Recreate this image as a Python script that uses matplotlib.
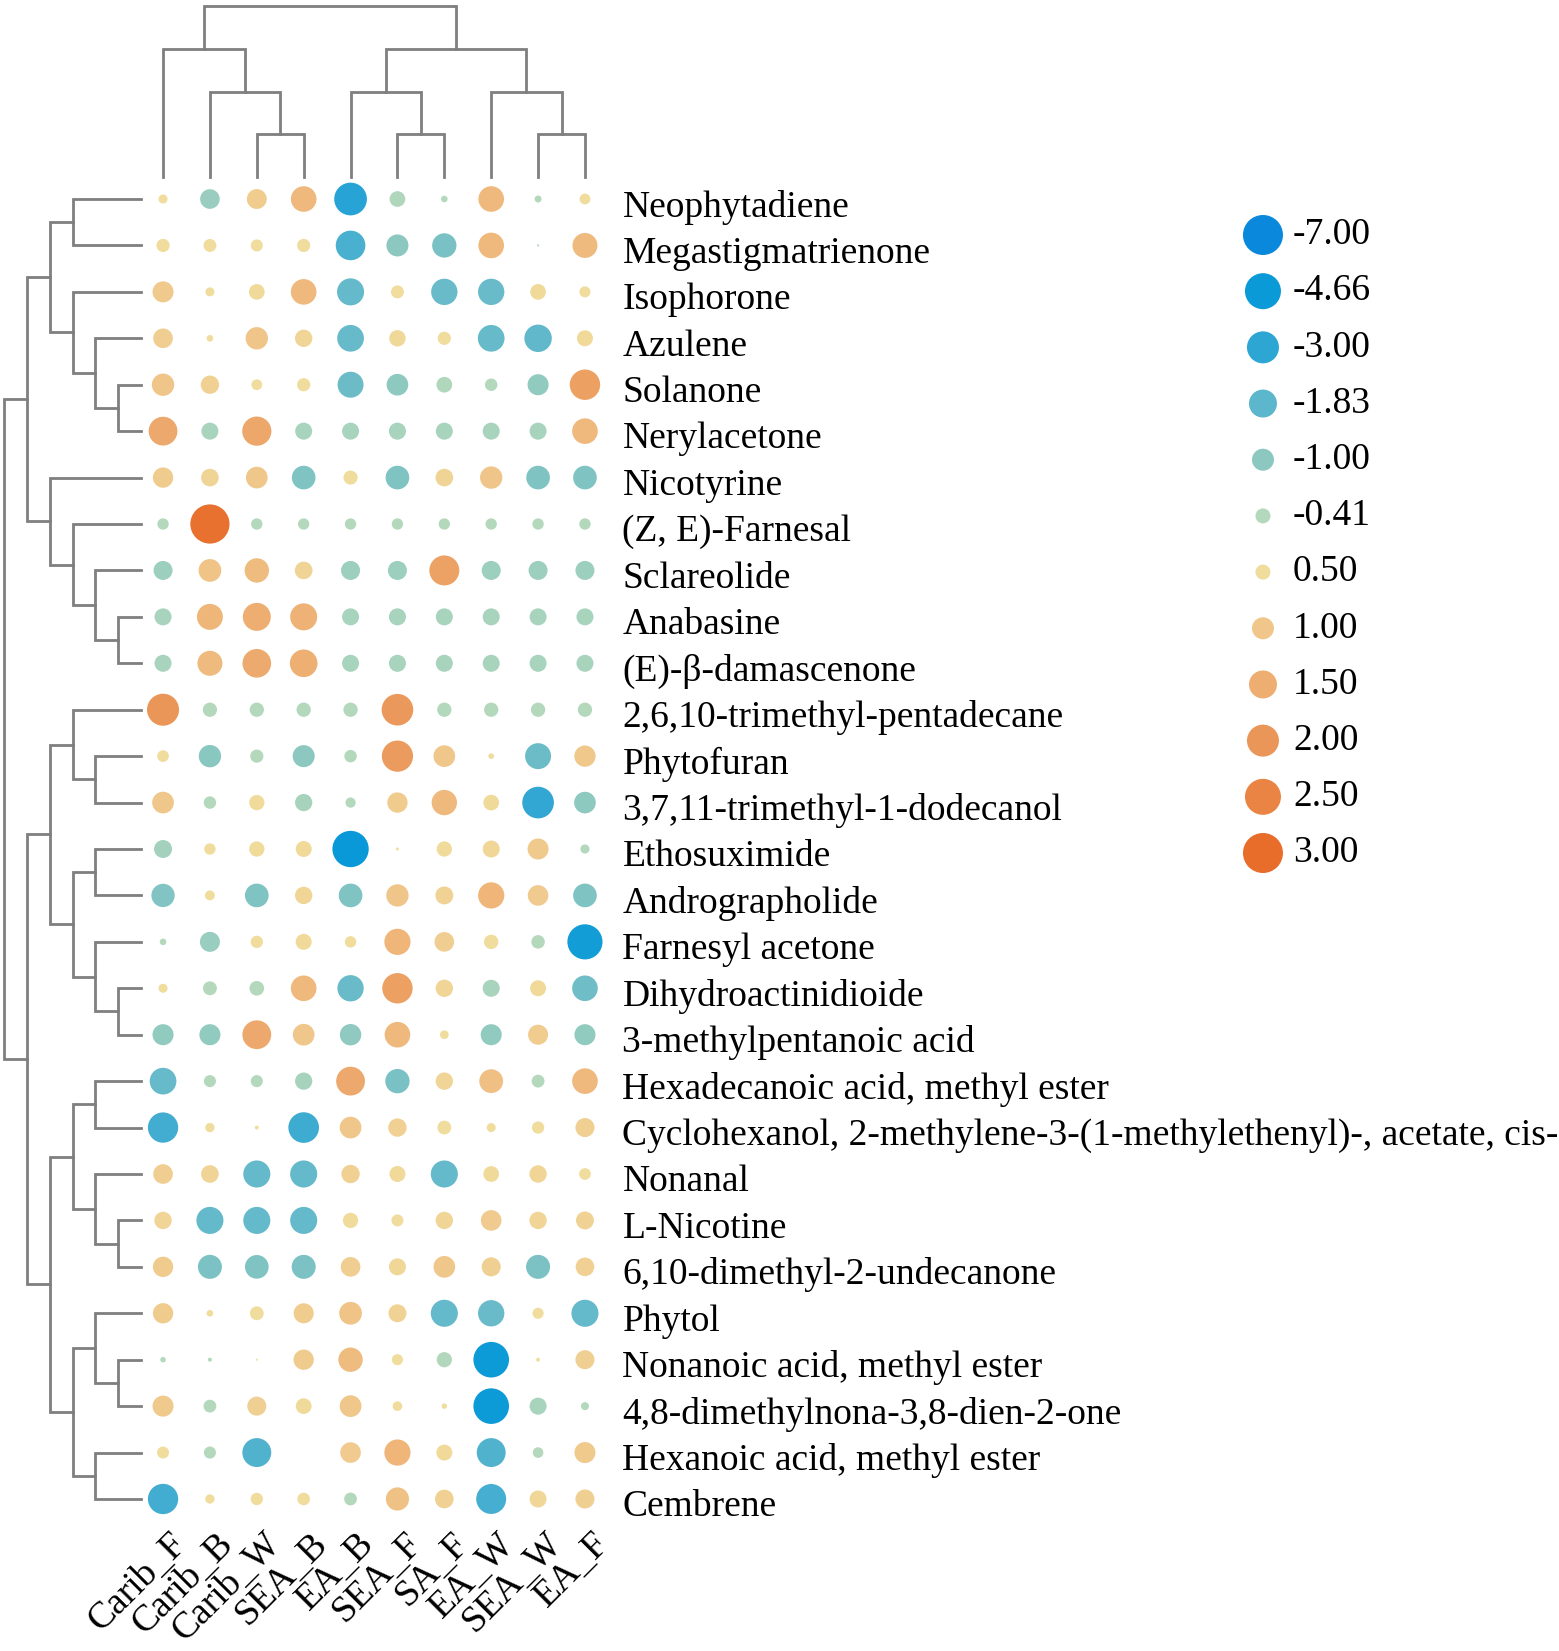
import matplotlib
matplotlib.use("Agg")
import matplotlib.pyplot as plt
import matplotlib.transforms as mtransforms
import numpy as np

plt.rcParams["font.family"] = ["Liberation Serif", "DejaVu Serif"]

# Samples (columns) and compounds (rows), in display order
samples = ["Carib_F", "Carib_B", "Carib_W", "SEA_B", "EA_B",
           "SEA_F", "SA_F", "EA_W", "SEA_W", "EA_F"]

compounds = [
    "Neophytadiene", "Megastigmatrienone", "Isophorone", "Azulene",
    "Solanone", "Nerylacetone", "Nicotyrine", "(Z, E)-Farnesal",
    "Sclareolide", "Anabasine", "(E)-\u03b2-damascenone",
    "2,6,10-trimethyl-pentadecane", "Phytofuran",
    "3,7,11-trimethyl-1-dodecanol", "Ethosuximide", "Andrographolide",
    "Farnesyl acetone", "Dihydroactinidioide", "3-methylpentanoic acid",
    "Hexadecanoic acid, methyl ester",
    "Cyclohexanol, 2-methylene-3-(1-methylethenyl)-, acetate, cis-",
    "Nonanal", "L-Nicotine", "6,10-dimethyl-2-undecanone", "Phytol",
    "Nonanoic acid, methyl ester", "4,8-dimethylnona-3,8-dien-2-one",
    "Hexanoic acid, methyl ester", "Cembrene",
]

# values (one list per compound, same order as samples)
values = np.array([
    [0.30, -0.80, 0.85, 1.30, -3.30, -0.47, -0.18, 1.30, -0.19, 0.36],
    [0.44, 0.43, 0.40, 0.44, -2.30, -1.00, -1.32, 1.30, -0.06, 1.25],
    [0.93, 0.30, 0.55, 1.30, -1.70, 0.43, -1.60, -1.60, 0.55, 0.37],
    [0.83, 0.22, 1.03, 0.67, -1.65, 0.60, 0.44, -1.65, -1.75, 0.57],
    [1.03, 0.74, 0.36, 0.44, -1.55, -0.97, -0.47, -0.34, -0.92, 1.80],
    [1.60, -0.58, 1.65, -0.58, -0.58, -0.58, -0.58, -0.58, -0.58, 1.30],
    [0.88, 0.69, 0.98, -1.23, 0.47, -1.23, 0.69, 1.03, -1.23, -1.23],
    [-0.31, 2.90, -0.31, -0.31, -0.31, -0.31, -0.31, -0.31, -0.31, -0.31],
    [-0.75, 1.06, 1.20, 0.69, -0.75, -0.75, 1.75, -0.75, -0.75, -0.75],
    [-0.58, 1.33, 1.50, 1.42, -0.58, -0.58, -0.58, -0.58, -0.58, -0.58],
    [-0.58, 1.25, 1.58, 1.47, -0.58, -0.58, -0.58, -0.58, -0.58, -0.58],
    [2.00, -0.39, -0.39, -0.39, -0.39, 1.95, -0.39, -0.39, -0.39, -0.39],
    [0.39, -1.05, -0.36, -1.00, -0.34, 1.90, 0.98, 0.19, -1.55, 0.95],
    [0.98, -0.34, 0.52, -0.60, -0.28, 0.88, 1.28, 0.55, -2.90, -0.97],
    [-0.66, 0.38, 0.52, 0.57, -4.85, 0.10, 0.52, 0.64, 0.93, -0.25],
    [-1.18, 0.33, -1.23, 0.67, -1.23, 1.03, 0.71, 1.35, 0.90, -1.23],
    [-0.18, -0.83, 0.41, 0.57, 0.38, 1.35, 0.83, 0.48, -0.37, -4.30],
    [0.30, -0.38, -0.40, 1.30, -1.60, 1.80, 0.67, -0.58, 0.57, -1.50],
    [-0.92, -0.92, 1.60, 0.98, -0.95, 1.30, 0.29, -0.92, 0.86, -0.92],
    [-1.65, -0.33, -0.33, -0.60, 1.60, -1.32, 0.67, 1.15, -0.35, 1.30],
    [-2.50, 0.31, 0.13, -2.60, 0.98, 0.74, 0.46, 0.30, 0.41, 0.79],
    [0.83, 0.69, -1.70, -1.70, 0.74, 0.57, -1.70, 0.55, 0.67, 0.39],
    [0.67, -1.70, -1.70, -1.70, 0.52, 0.40, 0.67, 0.90, 0.67, 0.71],
    [0.88, -1.28, -1.23, -1.28, 0.83, 0.64, 0.98, 0.79, -1.28, 0.76],
    [0.88, 0.22, 0.46, 0.86, 1.06, 0.71, -1.70, -1.60, 0.37, -1.70],
    [-0.15, -0.11, 0.07, 0.88, 1.20, 0.37, -0.43, -4.50, 0.13, 0.79],
    [0.93, -0.35, 0.79, 0.55, 0.98, 0.32, 0.18, -4.50, -0.58, -0.22],
    [0.40, -0.33, -2.10, 0.00, 0.90, 1.35, 0.57, -2.10, -0.29, 0.93],
    [-2.50, 0.31, 0.41, 0.42, -0.35, 1.10, 0.76, -2.40, 0.64, 0.79],
])

# dendrogram merges: (child a, child b, level); leaves are 0..n-1,
# the k-th merge becomes node n+k
col_merges = [
    (2, 3, 1), (5, 6, 1), (8, 9, 1),
    (1, 10, 2), (4, 11, 2), (7, 12, 2),
    (0, 13, 3), (14, 15, 3),
    (16, 17, 4),
]
row_merges = [
    (4, 5, 1), (9, 10, 1), (17, 18, 1), (22, 23, 1), (25, 26, 1),
    (3, 29, 2), (8, 30, 2), (12, 13, 2), (14, 15, 2), (16, 31, 2),
    (19, 20, 2), (21, 32, 2), (24, 33, 2), (27, 28, 2),
    (0, 1, 3), (2, 34, 3), (7, 35, 3), (11, 36, 3), (37, 38, 3),
    (39, 40, 3), (41, 42, 3),
    (43, 44, 4), (6, 45, 4), (46, 47, 4), (48, 49, 4),
    (50, 51, 5), (52, 53, 5),
    (54, 55, 6),
]

legend_values = [-7.00, -4.66, -3.00, -1.83, -1.00, -0.41,
                 0.50, 1.00, 1.50, 2.00, 2.50, 3.00]

# style: colour and dot diameter (px) for each legend step
LEGEND_COLORS = ["#0a88dc", "#0a9ad8", "#2ea6d4", "#5cb6cc", "#8cc8c0",
                 "#b4d8bc", "#f0dc9c", "#f0c68a", "#eeae72", "#ea9658",
                 "#ea8444", "#e86c2a"]
LEGEND_DIAM = [40, 36, 32, 28, 22, 15, 15, 22, 28, 32, 36, 40]
LINE_COLOR = "#7f7f7f"
LINE_W = 2.0
FONT_SIZE = 27

W, H, DPI = 1559, 1651, 100


def diameter(v):
    xs = legend_values[:6] + [0.0] + legend_values[6:]
    ds = LEGEND_DIAM[:6] + [0.0] + LEGEND_DIAM[6:]
    return np.interp(v, xs, ds)


def color_of(v):
    rgb = np.array([matplotlib.colors.to_rgb(c) for c in LEGEND_COLORS])
    neg_x, pos_x = legend_values[:6], legend_values[6:]
    out = []
    for val in np.ravel(v):
        if val < 0:
            c = [np.interp(val, neg_x, rgb[:6, k]) for k in range(3)]
        else:
            c = [np.interp(val, pos_x, rgb[6:, k]) for k in range(3)]
        out.append(c)
    return np.array(out)


def dendro_segments(merges, n):
    pos = {i: float(i) for i in range(n)}
    lev = {i: 0.0 for i in range(n)}
    segs = []
    for k, (a, b, h) in enumerate(merges):
        segs.append(([pos[a], pos[a], pos[b], pos[b]], [lev[a], h, h, lev[b]]))
        pos[n + k] = (pos[a] + pos[b]) / 2
        lev[n + k] = h
    return segs


def px_axes(fig, left, top, right, bottom):
    return fig.add_axes([left / W, 1 - bottom / H, (right - left) / W, (bottom - top) / H])


fig = plt.figure(figsize=(W / DPI, H / DPI), dpi=DPI)

n_rows, n_cols = values.shape
x0, x1 = 139.6, 608.4
y0, y1 = 175.8, 1522.2

# dot matrix
ax = px_axes(fig, x0, y0, x1, y1)
jj, ii = np.meshgrid(np.arange(n_cols), np.arange(n_rows))
d = diameter(values.ravel()) * 72 / DPI
ax.scatter(jj.ravel(), ii.ravel(), s=d ** 2, c=color_of(values), linewidths=0)
ax.set_xlim(-0.5, n_cols - 0.5)
ax.set_ylim(n_rows - 0.5, -0.5)
ax.axis("off")

# row labels, a little right of the last column
row_off = mtransforms.offset_copy(ax.transData, fig=fig, x=14, y=-8, units="dots")
for i, lab in enumerate(compounds):
    ax.text(n_cols - 0.5, i, lab, transform=row_off, fontsize=FONT_SIZE,
            ha="left", va="center", clip_on=False)

# column labels, rotated under the matrix
col_off = mtransforms.offset_copy(ax.transData, fig=fig, x=6, y=-4, units="dots")
for j, lab in enumerate(samples):
    ax.text(j, n_rows - 0.5, lab, transform=col_off, fontsize=FONT_SIZE,
            rotation=45, ha="right", va="top", rotation_mode="anchor",
            clip_on=False)

# column dendrogram
axt = px_axes(fig, x0, 6.3, x1, 177)
for xs, ys in dendro_segments(col_merges, n_cols):
    axt.plot(xs, ys, color=LINE_COLOR, lw=LINE_W, clip_on=False,
             solid_joinstyle="miter")
axt.set_xlim(-0.5, n_cols - 0.5)
axt.set_ylim(0, 4)
axt.axis("off")

# row dendrogram
axl = px_axes(fig, 4, y0, 141, y1)
for ys, xs in dendro_segments(row_merges, n_rows):
    axl.plot(xs, ys, color=LINE_COLOR, lw=LINE_W, clip_on=False,
             solid_joinstyle="miter")
axl.set_xlim(6, 0)
axl.set_ylim(n_rows - 0.5, -0.5)
axl.axis("off")

# legend
axg = px_axes(fig, 1240, 206.9, 1559, 881.1)
k = np.arange(len(legend_values))
lv = np.array(legend_values)
axg.scatter(np.full(len(k), 0.072), k, s=(np.array(LEGEND_DIAM) * 72 / DPI) ** 2,
            c=color_of(lv), linewidths=0)
for i, v in enumerate(legend_values):
    axg.text(0.166, i, f"{v:.2f}", fontsize=FONT_SIZE, ha="left", va="center")
axg.set_xlim(0, 1)
axg.set_ylim(len(k) - 0.5, -0.5)
axg.axis("off")

fig.savefig("out.png", dpi=DPI)
